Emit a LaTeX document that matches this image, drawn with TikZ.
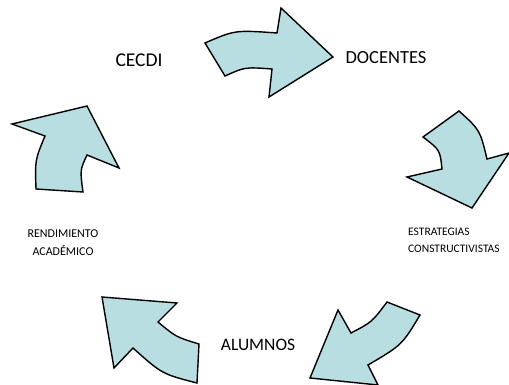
\documentclass[tikz,border=0pt]{standalone}
\usepackage{fontspec}
\setmainfont{Carlito}
\definecolor{arrowfill}{RGB}{184,222,225}
\tikzset{
  bigarrow/.style={fill=arrowfill,draw=black,line width=1.4pt,line join=miter},
  biglabel/.style={font=\fontsize{18.5}{22}\selectfont,inner sep=0pt},
  smalllabel/.style={font=\fontsize{12}{18}\selectfont,inner sep=0pt,align=center}
}
\begin{document}
\begin{tikzpicture}[x=1pt,y=-1pt]
\useasboundingbox (0,0) rectangle (509,385);
% arrow 1 (top)
\draw[bigarrow] (205,43) .. controls (235,30) .. (277,33) -- (281,8) -- (333,57) -- (269,97) -- (272,69) .. controls (245,67) .. (225,76) -- cycle;
% arrow 2 (right)
\draw[bigarrow] (459,111) .. controls (480,130) .. (487,159) -- (509,153) -- (472,208) -- (407,177) -- (442,169) .. controls (440,150) .. (423,137) -- cycle;
% arrow 3 (bottom right)
\draw[bigarrow] (387,302) -- (420,315) .. controls (402,345) .. (368,365) -- (378,385) -- (310,378) -- (338,310) -- (351,333) .. controls (372,322) .. (387,302) -- cycle;
% arrow 4 (bottom left)
\draw[bigarrow] (102,297) -- (177,303) -- (158,322) .. controls (176,337) .. (199,344) -- (197,383) .. controls (162,374) .. (133,348) -- (114,368) -- cycle;
% arrow 5 (left)
\draw[bigarrow] (12,124) -- (87,106) -- (119,168) -- (87,155) .. controls (80,170) .. (83,192) -- (36,189) .. controls (35,160) .. (45,136) -- cycle;
% labels
\node[biglabel,font=\fontsize{19.5}{22}\selectfont] (cecdi) at (139,60) {CECDI};
\node[biglabel] (docentes) at (386,58) {DOCENTES};
\node[smalllabel,font=\fontsize{11.5}{17}\selectfont,align=left,anchor=west] (estrategias) at (408,240) {ESTRATEGIAS\\CONSTRUCTIVISTAS};
\node[smalllabel] (rendimiento) at (63,243) {RENDIMIENTO\\ACADÉMICO};
\node[biglabel,font=\fontsize{17.5}{22}\selectfont] (alumnos) at (258,345) {ALUMNOS};
\end{tikzpicture}
\end{document}
